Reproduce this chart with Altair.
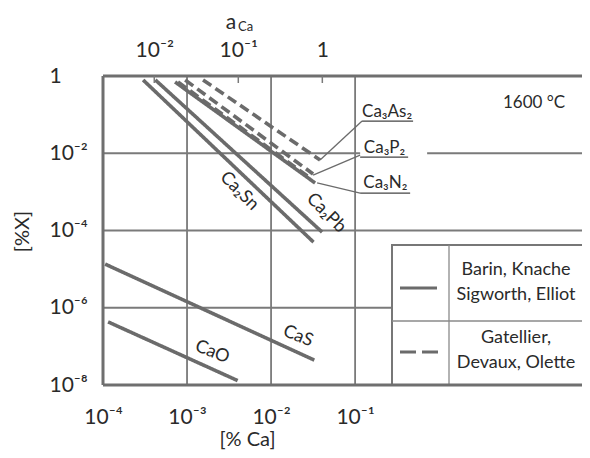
import json
import altair as alt
import pandas as pd

# ---------------- data ----------------
series_names = ["Ca2Sn", "Ca2Pb", "Ca3N2", "Ca3N2 (G)", "Ca3P2 (G)", "Ca3As2 (G)", "CaS", "CaO"]
series_style = ["solid", "solid", "solid", "dashed", "dashed", "dashed", "solid", "solid"]
x_start = [3.0e-4, 4.2e-4, 7.2e-4, 7.8e-4, 9.5e-4, 1.55e-3, 1.06e-4, 1.15e-4]
x_end = [3.2e-2, 4.05e-2, 3.34e-2, 2.9e-2, 3.16e-2, 3.83e-2, 3.27e-2, 4.0e-3]
y_start = [0.79, 0.79, 0.70, 0.70, 0.79, 0.79, 1.35e-5, 4.3e-7]
y_end = [5.0e-5, 9.1e-5, 1.7e-3, 2.3e-3, 2.9e-3, 6.7e-3, 4.4e-8, 1.3e-8]

label_text = ["Ca₂Sn", "Ca₂Pb", "CaS", "CaO"]
label_x = [10**-2.38, 10**-1.345, 10**-1.68, 10**-2.70]
label_y = [10**-2.98, 10**-3.55, 10**-6.74, 10**-7.15]
label_angle = [45, 45, 22, 22]

comp_text = ["Ca₃As₂", "Ca₃P₂", "Ca₃N₂"]
comp_x = [10**-0.62, 10**-0.65, 10**-0.64]
comp_y = [10**-0.93, 10**-1.865, 10**-2.77]
lead_x1 = [10**-1.417, 10**-1.5, 10**-1.452]
lead_y1 = [10**-2.176, 10**-2.565, 10**-2.77]
lead_x2 = [10**-0.917, 10**-0.94, 10**-0.94]
lead_y2 = [10**-1.166, 10**-2.047, 10**-3.03]
under_x2 = [10**-0.31, 10**-0.369, 10**-0.345]
under_y = [10**-1.166, 10**-2.10, 10**-3.03]

x_tick_values = [1e-4, 1e-3, 1e-2, 1e-1]
x_tick_labels = ["10⁻⁴", "10⁻³", "10⁻²", "10⁻¹"]
y_tick_values = [1, 1e-2, 1e-4, 1e-6, 1e-8]
y_tick_labels = ["1", "10⁻²", "10⁻⁴", "10⁻⁶", "10⁻⁸"]
a_tick_values = [1e-2, 1e-1, 1]
a_tick_labels = ["10⁻²", "10⁻¹", "1"]
a_offset = 10**1.39  # a_Ca = [%Ca] * offset

legend_labels = [["Barin, Knache", "Sigworth, Elliot"], ["Gatellier,", "Devaux, Olette"]]

X_MIN, X_MAX = 1e-4, 10**1.70
Y_MIN, Y_MAX = 1e-8, 1.0
W, H = 479, 309

LINE = "#6b6b6b"
GRID = "#7a7a7a"
TXT = "#2a2a2a"
FONT = "Lato"

# ---------------- scales / axes ----------------
xscale = alt.Scale(type="log", domain=[X_MIN, X_MAX], nice=False, zero=False)
yscale = alt.Scale(type="log", domain=[Y_MIN, Y_MAX], nice=False, zero=False)

x_expr = "%s[round(log(datum.value)/LN10)+4]" % json.dumps(x_tick_labels, ensure_ascii=False)
y_expr = "%s[round(-log(datum.value)/LN10/2)]" % json.dumps(y_tick_labels, ensure_ascii=False)
a_expr = "%s[round(log(datum.value)/LN10)+2]" % json.dumps(a_tick_labels, ensure_ascii=False)

xaxis = alt.Axis(values=x_tick_values, labelExpr=x_expr, grid=False, domain=False, ticks=False,
                 tickSize=0, labelFontSize=21, labelPadding=32, labelBaseline="middle",
                 labelFlush=False, labelOverlap=False, labelColor=TXT, labelFont=FONT,
                 title="[% Ca]", titleFontSize=20, titleFontWeight="normal", titleColor=TXT,
                 titleFont=FONT, titleX=144, titleY=54, titleBaseline="middle", titleAlign="center")
yaxis = alt.Axis(values=y_tick_values, labelExpr=y_expr, grid=False, domain=False, ticks=False,
                 tickSize=0, labelFontSize=21, labelPadding=54, labelAlign="left",
                 labelBaseline="middle", labelFlush=False, labelOverlap=False, labelColor=TXT,
                 labelFont=FONT, title="[%X]", titleFontSize=20, titleFontWeight="normal",
                 titleColor=TXT, titleFont=FONT, titleX=-81, titleY=155, titleAngle=-90,
                 titleBaseline="middle", titleAlign="center")


def X(field):
    return alt.X(field, type="quantitative", scale=xscale, axis=xaxis)


def Y(field):
    return alt.Y(field, type="quantitative", scale=yscale, axis=yaxis)


# ---------------- tables ----------------
rows = []
for n, s, xa, xb, ya, yb in zip(series_names, series_style, x_start, x_end, y_start, y_end):
    rows.append({"name": n, "style": s, "x": xa, "y": ya, "o": 0})
    rows.append({"name": n, "style": s, "x": xb, "y": yb, "o": 1})
lines_df = pd.DataFrame(rows)

labels_df = pd.DataFrame({"t": label_text, "x": label_x, "y": label_y, "ang": label_angle})
comp_df = pd.DataFrame({"t": comp_text, "x": comp_x, "y": comp_y})
lead_df = pd.DataFrame({"x": lead_x1, "y": lead_y1, "x2": lead_x2, "y2": lead_y2})
under_df = pd.DataFrame({"x": lead_x2, "x2": under_x2, "y": under_y})

vgrid_df = pd.DataFrame({"x": [1e-3, 1e-2, 1e-1]})
hgrid_df = pd.DataFrame({
    "y": [1e-2, 1e-2, 1e-4, 1e-6],
    "x": [X_MIN, 10**-0.143, X_MIN, X_MIN],
    "x2": [10**-0.94, X_MAX, X_MAX, 10**-0.56],
})

one = pd.DataFrame({"k": [0]})

# ---------------- layers ----------------
vgrid = alt.Chart(vgrid_df).mark_rule(color=GRID, strokeWidth=1.8).encode(x=X("x"))
hgrid = alt.Chart(hgrid_df).mark_rule(color=GRID, strokeWidth=1.8).encode(
    x=X("x"), x2=alt.X2("x2"), y=Y("y"))

frame_top = alt.Chart(one).mark_rule(color="#6f6f6f", strokeWidth=3).encode(y=alt.value(0))
frame_bottom = alt.Chart(one).mark_rule(color="#6f6f6f", strokeWidth=3).encode(y=alt.value(H))
frame_left = alt.Chart(one).mark_rule(color="#6f6f6f", strokeWidth=3).encode(x=alt.value(0))

lines = alt.Chart(lines_df).mark_line(color=LINE, strokeWidth=3.6, strokeCap="butt").encode(
    x=X("x"), y=Y("y"), detail="name:N", order="o:Q",
    strokeDash=alt.StrokeDash("style:N", scale=alt.Scale(domain=["solid", "dashed"],
                                                          range=[[1, 0], [10, 5]]), legend=None))

labels = alt.Chart(labels_df).mark_text(fontSize=18, color=TXT, font=FONT).encode(
    x=X("x"), y=Y("y"), text="t:N", angle=alt.Angle("ang:Q", scale=None))

leaders = alt.Chart(lead_df).mark_rule(color=LINE, strokeWidth=1.3).encode(
    x=X("x"), y=Y("y"), x2=alt.X2("x2"), y2=alt.Y2("y2"))
underlines = alt.Chart(under_df).mark_rule(color="#444444", strokeWidth=1.3).encode(
    x=X("x"), x2=alt.X2("x2"), y=Y("y"))
comps = alt.Chart(comp_df).mark_text(fontSize=17, color=TXT, font=FONT).encode(
    x=X("x"), y=Y("y"), text="t:N")

temp = alt.Chart(one).mark_text(text="1600 °C", fontSize=17, color=TXT, font=FONT).encode(
    x=alt.value(431), y=alt.value(27))

# legend box
leg_box = alt.Chart(one).mark_rect(fill="white", stroke="#777777", strokeWidth=2).encode(
    x=alt.value(289), x2=alt.value(W + 2), y=alt.value(169), y2=alt.value(H))
leg_v = alt.Chart(one).mark_rule(color="#8a8a8a", strokeWidth=1.3).encode(
    x=alt.value(346), y=alt.value(169), y2=alt.value(H))
leg_h = alt.Chart(one).mark_rule(color="#8a8a8a", strokeWidth=1.3).encode(
    x=alt.value(289), x2=alt.value(W), y=alt.value(245))
leg_solid = alt.Chart(one).mark_rule(color=LINE, strokeWidth=3).encode(
    x=alt.value(297), x2=alt.value(334), y=alt.value(212))
leg_dash = alt.Chart(one).mark_rule(color=LINE, strokeWidth=3, strokeDash=[16, 6]).encode(
    x=alt.value(297), x2=alt.value(337), y=alt.value(276))
leg_text_df = pd.DataFrame({
    "t": legend_labels[0] + legend_labels[1],
    "py": [194, 219, 262, 287],
})
leg_text = alt.Chart(leg_text_df).mark_text(fontSize=18, color=TXT, font=FONT).encode(
    x=alt.value(413), y=alt.Y("py:Q", scale=None), text="t:N")

# top axis title a_Ca
a_main = alt.Chart(one).mark_text(text="a", fontSize=21, color=TXT, font=FONT).encode(
    x=alt.value(128), y=alt.value(-53))
a_sub = alt.Chart(one).mark_text(text="Ca", fontSize=13, color=TXT, font=FONT, align="left").encode(
    x=alt.value(135), y=alt.value(-49))

main = alt.layer(
    vgrid, hgrid, lines, labels, leaders, underlines, comps, temp,
    leg_box, leg_v, leg_h, leg_solid, leg_dash, leg_text,
    frame_top, frame_bottom, frame_left, a_main, a_sub,
)

# top axis (activity of Ca)
a_df = pd.DataFrame({"a": a_tick_values})
ascale = alt.Scale(type="log", domain=[X_MIN * a_offset, X_MAX * a_offset], nice=False, zero=False)
aaxis = alt.Axis(orient="top", values=a_tick_values, labelExpr=a_expr, grid=False, domain=False,
                 ticks=False, tickSize=0, labelFontSize=21, labelPadding=26, labelBaseline="middle",
                 labelFlush=False, labelOverlap=False, labelColor=TXT, labelFont=FONT, title=None)
top_ticks = alt.Chart(a_df).mark_rule(color=GRID, strokeWidth=1.5).encode(
    x=alt.X("a:Q", scale=ascale, axis=aaxis), y=alt.value(0), y2=alt.value(7))

chart = alt.layer(main, top_ticks).resolve_scale(x="independent").properties(
    width=W, height=H,
    padding={"left": 95, "top": 68, "right": 0, "bottom": 65},
    autosize=alt.AutoSizeParams(type="none"),
).configure_view(stroke=None).configure(font=FONT, background="white")

chart.save("out.html", embed_options={"renderer": "svg", "actions": False})
